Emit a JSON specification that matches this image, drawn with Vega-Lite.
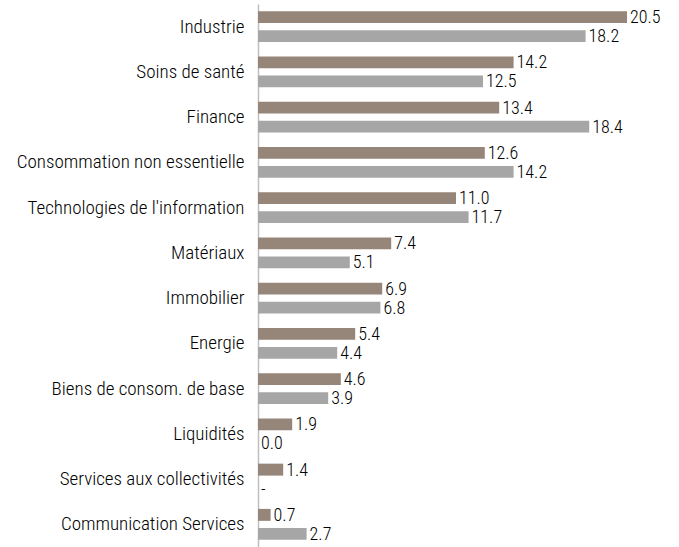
{
  "$schema": "https://vega.github.io/schema/vega-lite/v6.json",
  "autosize": "none",
  "width": 396,
  "height": 543,
  "padding": {"left": 258, "top": 4, "right": 25, "bottom": 0},
  "background": "white",
  "config": {"view": {"stroke": null}, "font": "Roboto Condensed, DejaVu Sans Condensed, sans-serif"},
  "data": {
    "values": [
      {"secteur": "Industrie", "serie": "A", "valeur": 20.5, "label": "20.5"},
      {"secteur": "Industrie", "serie": "B", "valeur": 18.2, "label": "18.2"},
      {"secteur": "Soins de santé", "serie": "A", "valeur": 14.2, "label": "14.2"},
      {"secteur": "Soins de santé", "serie": "B", "valeur": 12.5, "label": "12.5"},
      {"secteur": "Finance", "serie": "A", "valeur": 13.4, "label": "13.4"},
      {"secteur": "Finance", "serie": "B", "valeur": 18.4, "label": "18.4"},
      {"secteur": "Consommation non essentielle", "serie": "A", "valeur": 12.6, "label": "12.6"},
      {"secteur": "Consommation non essentielle", "serie": "B", "valeur": 14.2, "label": "14.2"},
      {"secteur": "Technologies de l'information", "serie": "A", "valeur": 11.0, "label": "11.0"},
      {"secteur": "Technologies de l'information", "serie": "B", "valeur": 11.7, "label": "11.7"},
      {"secteur": "Matériaux", "serie": "A", "valeur": 7.4, "label": "7.4"},
      {"secteur": "Matériaux", "serie": "B", "valeur": 5.1, "label": "5.1"},
      {"secteur": "Immobilier", "serie": "A", "valeur": 6.9, "label": "6.9"},
      {"secteur": "Immobilier", "serie": "B", "valeur": 6.8, "label": "6.8"},
      {"secteur": "Energie", "serie": "A", "valeur": 5.4, "label": "5.4"},
      {"secteur": "Energie", "serie": "B", "valeur": 4.4, "label": "4.4"},
      {"secteur": "Biens de consom. de base", "serie": "A", "valeur": 4.6, "label": "4.6"},
      {"secteur": "Biens de consom. de base", "serie": "B", "valeur": 3.9, "label": "3.9"},
      {"secteur": "Liquidités", "serie": "A", "valeur": 1.9, "label": "1.9"},
      {"secteur": "Liquidités", "serie": "B", "valeur": 0.0, "label": "0.0"},
      {"secteur": "Services aux collectivités", "serie": "A", "valeur": 1.4, "label": "1.4"},
      {"secteur": "Services aux collectivités", "serie": "B", "valeur": 0, "label": "-"},
      {"secteur": "Communication Services", "serie": "A", "valeur": 0.7, "label": "0.7"},
      {"secteur": "Communication Services", "serie": "B", "valeur": 2.7, "label": "2.7"}
    ]
  },
  "encoding": {
    "y": {
      "field": "secteur",
      "type": "nominal",
      "sort": null,
      "scale": {"paddingInner": 0.316, "paddingOuter": 0.158},
      "axis": {
        "title": null,
        "ticks": false,
        "labelPadding": 14,
        "labelFontSize": 19,
        "labelFontWeight": 300,
        "labelColor": "#000000",
        "labelFont": "Roboto Condensed, DejaVu Sans Condensed, sans-serif",
        "domainColor": "#bfbfbf",
        "domainWidth": 1.5,
        "labelLimit": 400
      }
    },
    "yOffset": {
      "field": "serie",
      "type": "nominal",
      "scale": {"paddingInner": 0.37, "paddingOuter": 0}
    },
    "x": {
      "field": "valeur",
      "type": "quantitative",
      "scale": {"domain": [0, 22], "nice": false},
      "axis": null
    }
  },
  "layer": [
    {
      "mark": {"type": "bar"},
      "encoding": {
        "color": {
          "field": "serie",
          "type": "nominal",
          "scale": {"domain": ["A", "B"], "range": ["#968579", "#a6a6a6"]},
          "legend": null
        }
      }
    },
    {
      "mark": {"type": "text", "align": "left", "baseline": "middle", "dx": 3, "dy": 1, "fontSize": 18, "fontWeight": 300, "color": "#000000", "font": "Roboto Condensed, DejaVu Sans Condensed, sans-serif"},
      "encoding": {"text": {"field": "label"}}
    }
  ]
}
